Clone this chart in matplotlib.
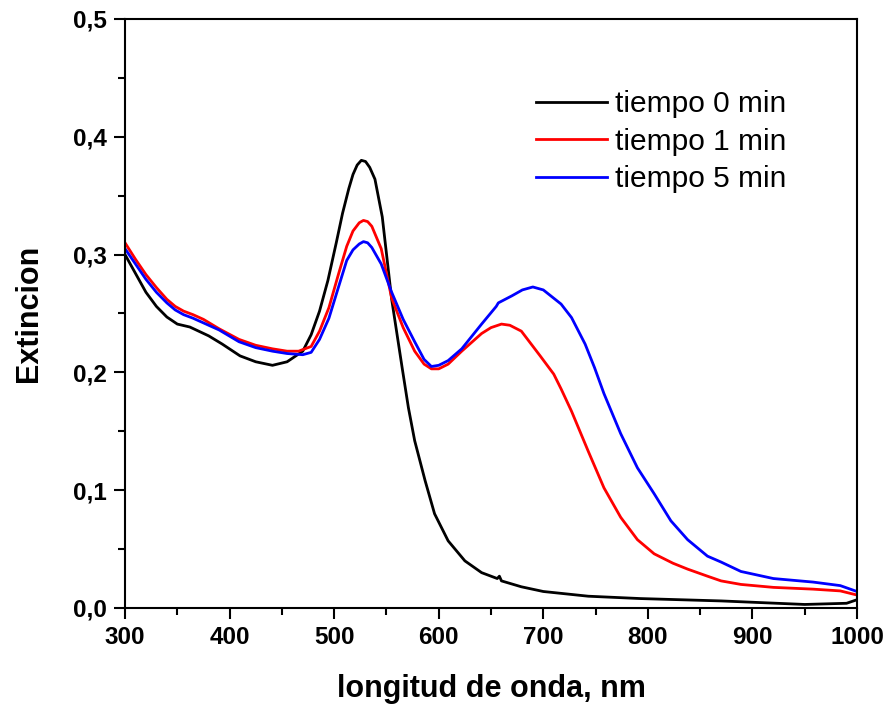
import matplotlib
matplotlib.use("Agg")
import matplotlib.pyplot as plt
from matplotlib.ticker import MultipleLocator, FuncFormatter

# wavelength (nm) and extinction
wl_t0 = [300, 310, 320, 330, 340, 350, 362, 380, 393, 410, 425, 441, 455, 470, 478, 486,
         494, 502, 508, 514, 518, 522, 526, 530, 534, 539, 546, 555, 565, 571, 577, 587,
         596, 609, 625, 641, 656, 658, 660, 679, 700, 743, 793, 870, 950, 990, 1000]
ext_t0 = [0.300, 0.284, 0.268, 0.256, 0.247, 0.241, 0.2385, 0.231, 0.224, 0.214, 0.209,
          0.206, 0.209, 0.218, 0.232, 0.252, 0.278, 0.310, 0.335, 0.356, 0.368, 0.376,
          0.380, 0.379, 0.374, 0.364, 0.332, 0.262, 0.204, 0.170, 0.142, 0.108, 0.080,
          0.057, 0.040, 0.030, 0.025, 0.027, 0.023, 0.018, 0.014, 0.010, 0.008, 0.006,
          0.003, 0.004, 0.007]

wl_t1 = [300, 310, 320, 330, 340, 348, 356, 365, 375, 390, 409, 425, 441, 455, 466, 478,
         486, 495, 504, 512, 518, 524, 528, 532, 536, 545, 555, 566, 577, 586, 593, 600,
         609, 622, 641, 650, 660, 668, 679, 685, 697, 710, 717, 727, 743, 758, 774, 790,
         806, 824, 838, 857, 870, 889, 920, 958, 984, 1000]
ext_t1 = [0.310, 0.296, 0.283, 0.272, 0.262, 0.256, 0.252, 0.249, 0.245, 0.237, 0.228,
          0.223, 0.220, 0.218, 0.218, 0.222, 0.235, 0.255, 0.283, 0.307, 0.320, 0.327,
          0.329, 0.328, 0.324, 0.305, 0.263, 0.238, 0.218, 0.207, 0.203, 0.203, 0.207,
          0.218, 0.233, 0.238, 0.241, 0.240, 0.235, 0.228, 0.214, 0.1985, 0.186, 0.167,
          0.133, 0.102, 0.077, 0.058, 0.046, 0.038, 0.033, 0.027, 0.023, 0.020, 0.0175,
          0.016, 0.0145, 0.011]

wl_t5 = [300, 310, 320, 330, 340, 348, 356, 365, 375, 390, 409, 425, 441, 455, 470, 478,
         486, 495, 504, 512, 518, 524, 528, 532, 536, 545, 555, 566, 577, 586, 593, 600,
         609, 622, 641, 655, 657, 670, 680, 690, 700, 717, 727, 740, 749, 758, 774, 790,
         806, 822, 838, 857, 870, 889, 920, 958, 984, 1000]
ext_t5 = [0.305, 0.292, 0.279, 0.268, 0.259, 0.253, 0.249, 0.246, 0.242, 0.236, 0.226,
          0.221, 0.218, 0.216, 0.215, 0.217, 0.228, 0.246, 0.272, 0.295, 0.304, 0.309,
          0.311, 0.310, 0.306, 0.292, 0.268, 0.245, 0.226, 0.211, 0.205, 0.206, 0.210,
          0.220, 0.241, 0.256, 0.259, 0.265, 0.270, 0.2725, 0.270, 0.258, 0.2465, 0.224,
          0.204, 0.182, 0.148, 0.119, 0.097, 0.074, 0.058, 0.044, 0.039, 0.031, 0.025,
          0.022, 0.019, 0.014]

labels = ["tiempo 0 min", "tiempo 1 min", "tiempo 5 min"]
colors = ["black", "red", "blue"]

plt.rcParams['font.family'] = ['Liberation Sans', 'DejaVu Sans']

fig = plt.figure(figsize=(8.88, 7.05), dpi=100)
ax = fig.add_axes([0.1408, 0.1376, 0.8243, 0.8355])

for wl, ext, lab, col in zip([wl_t0, wl_t1, wl_t5], [ext_t0, ext_t1, ext_t5], labels, colors):
    ax.plot(wl, ext, color=col, lw=2.0, label=lab)

ax.set_xlim(300, 1000)
ax.set_ylim(0, 0.5)
ax.xaxis.set_major_locator(MultipleLocator(100))
ax.xaxis.set_minor_locator(MultipleLocator(50))
ax.yaxis.set_major_locator(MultipleLocator(0.1))
ax.yaxis.set_minor_locator(MultipleLocator(0.05))
ax.yaxis.set_major_formatter(FuncFormatter(lambda v, p: ("%.1f" % v).replace(".", ",")))

ax.tick_params(which="major", direction="out", length=8, width=1.5, labelsize=17.5, pad=5)
ax.tick_params(which="minor", direction="out", length=5, width=1.5)
for lbl in ax.get_xticklabels() + ax.get_yticklabels():
    lbl.set_fontweight("bold")
for sp in ax.spines.values():
    sp.set_linewidth(1.5)

ax.set_xlabel("longitud de onda, nm", fontsize=22, fontweight="bold", labelpad=18)
ax.set_ylabel("Extincion", fontsize=22, fontweight="bold", labelpad=21)

ax.legend(loc="upper left", bbox_to_anchor=(0.562, 0.879), frameon=False, fontsize=21.5,
          handlelength=2.37, handletextpad=0.25, labelspacing=0.32, borderpad=0,
          borderaxespad=0)

fig.savefig("out.png", dpi=100)
